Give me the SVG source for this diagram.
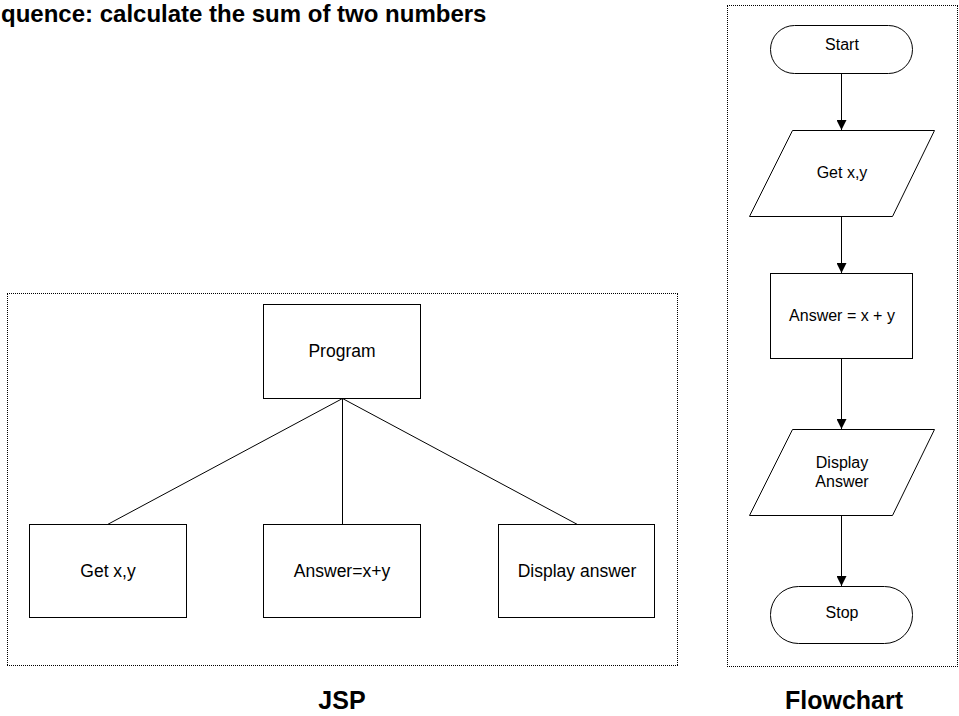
<svg xmlns="http://www.w3.org/2000/svg" width="959" height="716" viewBox="0 0 959 716">
<defs>
<style>
.frame{fill:none;stroke:#000;stroke-width:1;stroke-dasharray:1 1}
.box{fill:#fff;stroke:#000;stroke-width:1}
.ln{fill:none;stroke:#000;stroke-width:1}
.t{font-family:"Liberation Sans",Arial,sans-serif;fill:#000;text-anchor:middle}
.js{font-size:17.5px}
.fc{font-size:16px}
.big{font-family:"Liberation Sans",Arial,sans-serif;font-weight:bold;fill:#000}
</style>
<marker id="arr" viewBox="0 0 10 10" refX="10" refY="5" markerWidth="10" markerHeight="10" markerUnits="userSpaceOnUse" orient="auto">
<path d="M0,0 L10,5 L0,10 Z" fill="#000"/>
</marker>
</defs>
<rect width="959" height="716" fill="#fff"/>
<text class="big" x="1" y="22" font-size="24">quence: calculate the sum of two numbers</text>

<g id="jsp-frame"><path class="frame" d="M7,293.5 H678 M7,665.5 H678 M7.5,294 V666 M677.5,294 V666"/></g>
<g id="flow-frame"><path class="frame" d="M727,5.5 H958 M727,666.5 H958 M727.5,6 V667 M957.5,6 V667"/></g>

<g id="connectors">
<line class="ln" x1="342.5" y1="398.5" x2="107.5" y2="524.5"/>
<line class="ln" x1="342.5" y1="398.5" x2="342.5" y2="524.5"/>
<line class="ln" x1="342.5" y1="398.5" x2="577.5" y2="524.5"/>
<line class="ln" x1="841.5" y1="73" x2="841.5" y2="130" marker-end="url(#arr)"/>
<line class="ln" x1="841.5" y1="216" x2="841.5" y2="273" marker-end="url(#arr)"/>
<line class="ln" x1="841.5" y1="358" x2="841.5" y2="429" marker-end="url(#arr)"/>
<line class="ln" x1="841.5" y1="515" x2="841.5" y2="586" marker-end="url(#arr)"/>
</g>

<g id="program"><rect class="box" x="263.5" y="304.5" width="157" height="94"/><text class="t js" x="342" y="357">Program</text></g>
<g id="jsp-get"><rect class="box" x="29.5" y="524.5" width="157" height="93"/><text class="t js" x="108" y="577">Get x,y</text></g>
<g id="jsp-answer"><rect class="box" x="263.5" y="524.5" width="157" height="93"/><text class="t js" x="342" y="577">Answer=x+y</text></g>
<g id="jsp-display"><rect class="box" x="498.5" y="524.5" width="156" height="93"/><text class="t js" x="577" y="577">Display answer</text></g>

<g id="start"><rect class="box" x="770.5" y="25.5" width="142" height="48" rx="24" ry="24"/><text class="t fc" x="842" y="50">Start</text></g>
<g id="get-xy"><polygon class="box" points="792.5,130.5 934.5,130.5 892.5,216.5 749.5,216.5"/><text class="t fc" x="842" y="178">Get x,y</text></g>
<g id="answer"><rect class="box" x="770.5" y="273.5" width="142" height="85"/><text class="t fc" x="842" y="321">Answer = x + y</text></g>
<g id="display"><polygon class="box" points="792.5,429.5 934.5,429.5 892.5,515.5 749.5,515.5"/><text class="t fc" x="842" y="468">Display</text><text class="t fc" x="842" y="487">Answer</text></g>
<g id="stop"><rect class="box" x="770.5" y="586.5" width="142" height="57" rx="28" ry="28"/><text class="t fc" x="842" y="618">Stop</text></g>

<text class="big" x="342" y="709" font-size="25" text-anchor="middle">JSP</text>
<text class="big" x="844" y="709" font-size="25" text-anchor="middle">Flowchart</text>
</svg>
